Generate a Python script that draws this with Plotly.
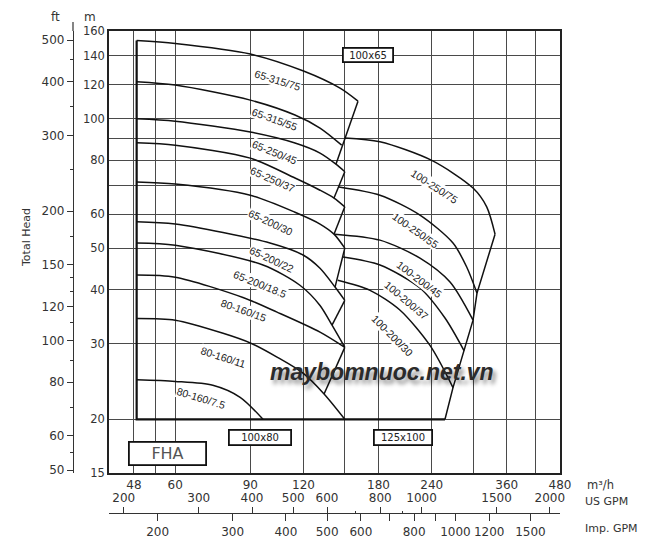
import numpy as np
import plotly.graph_objects as go

# ---------------- data (Q in m3/h, H in m) ----------------
# left group, 65-xxx and 80-160 series
Q_65_315_75 = [48.7, 60, 90, 120, 146.2, 161.1]
H_65_315_75 = [152, 149.6, 141.4, 129.1, 117.8, 109.9]
Q_65_315_55 = [48.7, 60, 90, 114.6, 131.2, 147.5]
H_65_315_55 = [122, 119.8, 110.5, 102, 95.1, 86.8]
Q_65_250_45 = [48.7, 60, 90, 114.6, 131.2, 143, 150]
H_65_250_45 = [100, 98.7, 93.1, 87.8, 83.2, 78.4, 75.3]
Q_65_250_37 = [48.7, 60, 90, 114.6, 131.2, 141.5, 150]
H_65_250_37 = [87.9, 86.8, 81, 72.8, 68.2, 65.4, 62.4]
Q_65_200_30 = [48.7, 60, 90, 114.6, 131.2, 141.5, 150]
H_65_200_30 = [71.3, 70.5, 66.4, 60.6, 56.9, 53.9, 50]
Q_65_200_22 = [48.7, 60, 100.1, 119.7, 131.2, 142.3, 150]
H_65_200_22 = [57.6, 56.9, 51.4, 48.2, 44.9, 40.6, 37.8]
Q_65_200_185 = [48.7, 60, 96.4, 117.7, 131.2, 140, 150]
H_65_200_185 = [51.4, 50.8, 45.7, 41, 36.8, 33.1, 29.4]
Q_80_160_15 = [48.7, 60, 86.5, 104, 131.2, 150]
H_80_160_15 = [43.3, 42.8, 38.4, 35.5, 31.9, 29.4]
Q_80_160_11 = [48.7, 60, 77.7, 90, 104, 119.7, 134.1, 150]
H_80_160_11 = [34.3, 34, 31.7, 30.1, 27.9, 25.6, 22.9, 20]
Q_80_160_75 = [48.7, 60, 73.5, 85.2, 96.4]
H_80_160_75 = [24.7, 24.5, 24, 22.5, 20]

# right group, 100-xxx series
Q_100_250_75 = [150, 181.4, 240, 300, 323, 337.9]
H_100_250_75 = [90.2, 88.4, 80, 69, 62.4, 53.9]
Q_100_250_55 = [145.3, 181.4, 225.2, 269.2, 289.9, 306.5]
H_100_250_55 = [69.4, 66.4, 59.7, 51.4, 45.2, 39.3]
Q_100_200_45 = [142, 181.4, 225.2, 264.9, 300]
H_100_200_45 = [53.9, 52.2, 47.4, 41.7, 34]
Q_100_200_37 = [148.5, 181.4, 225.2, 257.8, 285.7]
H_100_200_37 = [47.7, 45.7, 40.4, 34.4, 28.9]
Q_100_200_30 = [144.4, 171.9, 202, 237.7, 269.2]
H_100_200_30 = [42.1, 39.9, 35.9, 29.7, 23.7]

# envelope / limit lines
ENV_LEFT_Q = [[161.1, 143], [150, 141.5], [150, 141.5], [150, 142.3], [150, 140], [150, 134.1]]
ENV_LEFT_H = [[109.9, 78.4], [75.3, 65.4], [62.4, 53.9], [50, 40.6], [37.8, 33.1], [29.4, 22.9]]
ENV_RIGHT_Q = [337.9, 306.5, 300, 269.2, 257.8]
ENV_RIGHT_H = [53.9, 39.3, 34, 23.7, 20]
FRAME_Q = [48.7, 48.7, 257.8]
FRAME_H = [152, 20, 20]

CURVES = [
    ("65-315/75", Q_65_315_75, H_65_315_75),
    ("65-315/55", Q_65_315_55, H_65_315_55),
    ("65-250/45", Q_65_250_45, H_65_250_45),
    ("65-250/37", Q_65_250_37, H_65_250_37),
    ("65-200/30", Q_65_200_30, H_65_200_30),
    ("65-200/22", Q_65_200_22, H_65_200_22),
    ("65-200/18.5", Q_65_200_185, H_65_200_185),
    ("80-160/15", Q_80_160_15, H_80_160_15),
    ("80-160/11", Q_80_160_11, H_80_160_11),
    ("80-160/7.5", Q_80_160_75, H_80_160_75),
    ("100-250/75", Q_100_250_75, H_100_250_75),
    ("100-250/55", Q_100_250_55, H_100_250_55),
    ("100-200/45", Q_100_200_45, H_100_200_45),
    ("100-200/37", Q_100_200_37, H_100_200_37),
    ("100-200/30", Q_100_200_30, H_100_200_30),
]

# axis ticks
Q_TICKS = [48, 54, 60, 90, 120, 150, 180, 240, 300, 360, 420, 480]
Q_TICKTEXT = ["48", "", "60", "90", "120", "", "180", "240", "", "360", "", "480"]
H_TICKS = [15, 20, 30, 40, 50, 60, 70, 80, 90, 100, 120, 140, 160]
H_TICKTEXT = ["15", "20", "30", "40", "50", "60", "", "80", "", "100", "120", "140", "160"]
FT_TICKS = [50, 60, 80, 100, 120, 150, 200, 300, 400, 500]
FT_MINOR = [55, 70, 90, 110, 130, 140, 175, 250, 350, 450]
USGPM_TICKS = [200, 300, 400, 500, 600, 800, 1000, 1500, 2000]
USGPM_MINOR = [700, 900]
IMPGPM_TICKS = [200, 300, 400, 500, 600, 700, 800, 900, 1000, 1200, 1500]
IMPGPM_TEXT = ["200", "300", "400", "500", "600", "", "800", "", "1000", "1200", "1500"]

Q_MIN, Q_MAX = 41.94, 480
H_MIN, H_MAX = 15, 160
M_TO_FT = 3.28084
M3H_TO_USGPM = 4.4029
M3H_TO_IMPGPM = 3.6661

# ---------------- layout helpers ----------------
# the page body has an 8px margin, so the figure is made 8px smaller and margins shifted
OFF = 8
W, HH = 650 - OFF, 550 - OFF
ML, MR, MT, MB = 40 - OFF, 90, 31 - OFF, 20
PW, PH = W - ML - MR, HH - MT - MB
PAGE_L, PAGE_B = 40, 530  # page pixel of paper x=0 and paper y=0


def px(x):
    return (x - PAGE_L) / PW


def py(y):
    return (PAGE_B - y) / PH


FONT = "DejaVu Sans"
LBLFONT = "Liberation Sans Narrow, Liberation Sans, Arial, sans-serif"

fig = go.Figure()

# envelope lines (None-separated)
eq, eh = [], []
for qs, hs in zip(ENV_LEFT_Q, ENV_LEFT_H):
    eq += qs + [None]
    eh += hs + [None]
fig.add_trace(go.Scatter(x=eq, y=eh, mode="lines", line=dict(color="#111", width=1.5),
                         hoverinfo="skip", showlegend=False))
fig.add_trace(go.Scatter(x=ENV_RIGHT_Q, y=ENV_RIGHT_H, mode="lines",
                         line=dict(color="#111", width=1.5), hoverinfo="skip", showlegend=False))
fig.add_trace(go.Scatter(x=FRAME_Q, y=FRAME_H, mode="lines",
                         line=dict(color="#111", width=2.2), hoverinfo="skip", showlegend=False))

for name, q, h in CURVES:
    fig.add_trace(go.Scatter(x=q, y=h, mode="lines", name=name,
                             line=dict(color="#111", width=1.5, shape="spline", smoothing=0.8),
                             showlegend=False))

# helper (empty) traces so secondary axes are drawn
fig.add_trace(go.Scatter(x=[None], y=[None], xaxis="x2", yaxis="y", showlegend=False, hoverinfo="skip"))
fig.add_trace(go.Scatter(x=[None], y=[None], xaxis="x3", yaxis="y", showlegend=False, hoverinfo="skip"))
fig.add_trace(go.Scatter(x=[None], y=[None], xaxis="x", yaxis="y2", showlegend=False, hoverinfo="skip"))

tickfont = dict(family=FONT, size=11.5, color="#333")

fig.update_layout(
    width=W, height=HH,
    margin=dict(l=ML, r=MR, t=MT, b=MB, autoexpand=False),
    paper_bgcolor="white", plot_bgcolor="white",
    xaxis=dict(type="log", range=[np.log10(Q_MIN), np.log10(Q_MAX)], domain=[px(109), 1],
               tickvals=Q_TICKS, ticktext=Q_TICKTEXT, ticks="", showgrid=True,
               gridcolor="#4a4a4a", gridwidth=1, showline=True, mirror=True,
               linecolor="#222", linewidth=1.5, tickfont=dict(family=FONT, size=12, color="#333"),
               zeroline=False, fixedrange=True),
    yaxis=dict(type="log", range=[np.log10(H_MIN), np.log10(H_MAX)], domain=[py(473), 1],
               tickvals=H_TICKS, ticktext=H_TICKTEXT, ticks="", showgrid=True,
               gridcolor="#4a4a4a", gridwidth=1, showline=True, mirror=True,
               linecolor="#222", linewidth=1.5, tickfont=tickfont, zeroline=False),
    yaxis2=dict(type="log", overlaying="y", anchor="free", position=px(73), side="left",
                range=[np.log10(H_MIN * M_TO_FT), np.log10(H_MAX * M_TO_FT)],
                tickvals=FT_TICKS, ticks="outside", ticklen=6, tickcolor="#333",
                showline=True, linecolor="#333", linewidth=1.2, showgrid=False,
                tickfont=dict(family=FONT, size=12, color="#333"),
                minor=dict(tickvals=FT_MINOR, ticks="outside", ticklen=3, tickcolor="#333"),
                zeroline=False),
    xaxis2=dict(type="log", overlaying="x", anchor="free", position=py(513), side="top",
                range=[np.log10(Q_MIN * M3H_TO_USGPM), np.log10(Q_MAX * M3H_TO_USGPM)],
                tickvals=USGPM_TICKS, ticks="outside", ticklen=6, tickcolor="#333",
                showline=True, linecolor="#333", linewidth=1.2, showgrid=False,
                tickfont=dict(family=FONT, size=12, color="#333"),
                minor=dict(tickvals=USGPM_MINOR, ticks="outside", ticklen=2, tickcolor="#333"),
                zeroline=False),
    xaxis3=dict(type="log", overlaying="x", anchor="free", position=py(513), side="bottom",
                range=[np.log10(Q_MIN * M3H_TO_IMPGPM), np.log10(Q_MAX * M3H_TO_IMPGPM)],
                tickvals=IMPGPM_TICKS, ticktext=IMPGPM_TEXT, ticks="outside", ticklen=7,
                tickcolor="#333", showline=True, linecolor="#333", linewidth=1.2,
                showgrid=False, tickfont=dict(family=FONT, size=12, color="#333"),
                zeroline=False),
)

# ft axis line continues a little above the plot top
fig.add_shape(type="line", xref="paper", yref="paper", x0=px(73), x1=px(73),
              y0=py(31), y1=py(22), line=dict(color="#333", width=1.2))

ann = []


def txt(t, x, y, size=12, angle=0, xanchor="center", color="#333", family=FONT, **kw):
    ann.append(dict(text=t, x=px(x), y=py(y), xref="paper", yref="paper", showarrow=False,
                    textangle=angle, xanchor=xanchor, yanchor="middle",
                    font=dict(family=family, size=size, color=color), **kw))


# axis titles / units
txt("ft", 55, 17)
txt("m", 90, 17)
txt("Total Head", 27, 238, size=11, angle=-90)
txt("m³/h", 585, 485, size=11.5, xanchor="left")
txt("US GPM", 583, 501, size=11, xanchor="left")
txt("Imp. GPM", 583, 528, size=11, xanchor="left")

# curve labels (text, center px, angle)
LABELS = [
    ("65-315/75", 277, 80, 17), ("65-315/55", 274, 119, 20), ("65-250/45", 274, 152, 22),
    ("65-250/37", 272, 179, 24), ("65-200/30", 270, 222, 25), ("65-200/22", 271, 259, 25),
    ("65-200/18.5", 260, 284, 22), ("80-160/15", 243, 310, 20), ("80-160/11", 223, 357, 18),
    ("80-160/7.5", 201, 398, 17), ("100-250/75", 434, 186, 33), ("100-250/55", 415, 230, 35),
    ("100-200/45", 419, 279, 37), ("100-200/37", 406, 300, 40), ("100-200/30", 392, 335, 45),
]
for t, x, y, a in LABELS:
    txt(t, x, y, size=10.5, angle=a, color="#222", family=LBLFONT, bgcolor="white", borderpad=0)


# boxes
def box(t, x0, x1, y0, y1, size, color="#222", bw=1.8):
    pad = 1
    ann.append(dict(text=t, x=px((x0 + x1) / 2), y=py((y0 + y1) / 2), xref="paper", yref="paper",
                    showarrow=False, xanchor="center", yanchor="middle",
                    width=(x1 - x0) - 2 * (pad + bw), height=(y1 - y0) - 2 * (pad + bw),
                    borderpad=pad, borderwidth=bw, bordercolor="#111", bgcolor="white",
                    font=dict(family=FONT, size=size, color=color)))


box("100x65", 342, 394, 47, 63, 10)
box("100x80", 228, 292, 429, 446, 10)
box("125x100", 373, 433, 429, 446, 10)
box("FHA", 128, 207, 441, 466, 16, color="#555")

# watermark
ann.append(dict(text="<b><i>maybomnuoc.net.vn</i></b>", x=px(382), y=py(372), xref="paper",
                yref="paper", showarrow=False, xanchor="center", yanchor="middle",
                font=dict(family="Liberation Sans, Arial, sans-serif", size=23, color="#2b2b2b",
                          shadow="3px 4px 4px rgba(0,0,0,0.45)")))

fig.update_layout(annotations=ann)
fig.write_html("out.html")
